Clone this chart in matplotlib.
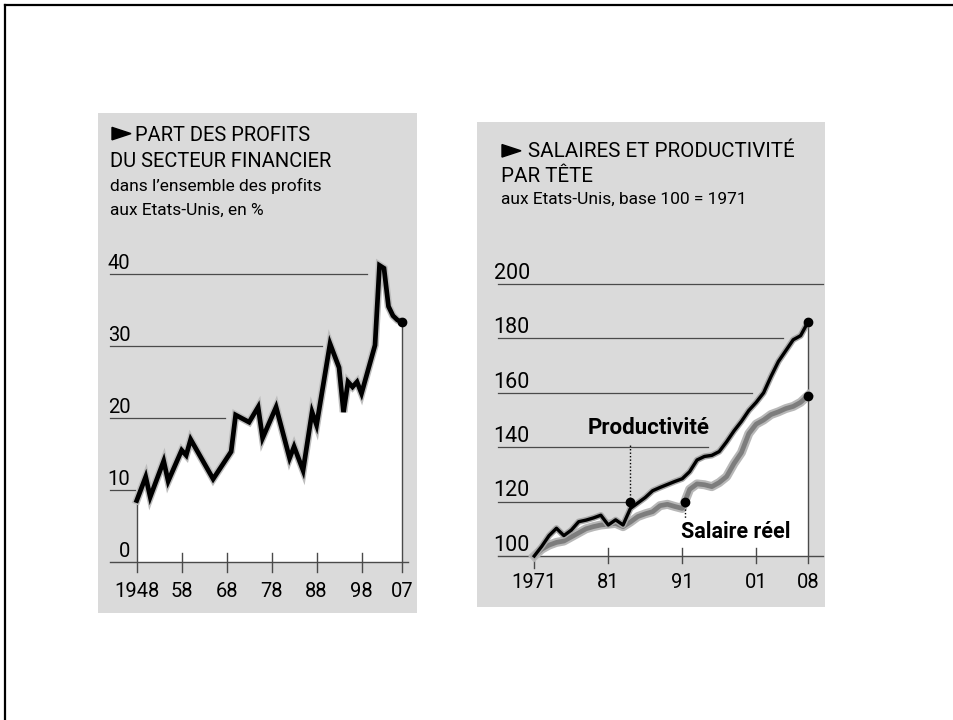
import matplotlib.pyplot as plt
import matplotlib.patheffects as pe
from matplotlib.lines import Line2D
from matplotlib.patches import Polygon

# part des profits du secteur financier, en %
profit_years = [1948, 1950, 1951, 1954, 1955, 1958, 1959, 1960, 1965, 1969, 1970,
                1973, 1975, 1976, 1979, 1982, 1983, 1985, 1987, 1988, 1991, 1993,
                1994, 1995, 1996, 1997, 1998, 2001, 2002, 2003, 2004, 2005, 2006, 2007]
profit_share = [8.5, 11.8, 9.0, 14.0, 11.2, 15.5, 14.8, 17.0, 11.5, 15.3, 20.4,
                19.4, 21.5, 17.2, 21.5, 14.4, 16.0, 12.7, 20.8, 19.0, 30.3, 27.0,
                20.8, 25.0, 24.3, 25.0, 23.4, 30.1, 41.2, 40.8, 35.5, 34.2, 33.6, 33.3]
profit_ticks = [0, 10, 20, 30, 40]
profit_xticks = [1948, 1958, 1968, 1978, 1988, 1998, 2007]
profit_xlabels = ['1948', '58', '68', '78', '88', '98', '07']

# salaires et productivite, base 100 = 1971
wage_years = list(range(1971, 2009))
productivity = [100, 103.5, 107.5, 110.2, 107.5, 109.5, 112.6, 113.2, 114, 115,
                111.4, 113.3, 111.4, 117.5, 119.5, 121.5, 124, 125.2, 126.3, 127.4,
                128.4, 131, 135.3, 136.6, 137, 138.4, 142, 146, 149.5, 153.5,
                156.5, 160, 166, 171.5, 175.5, 179.5, 181, 186]
real_wage = [100, 102.5, 104, 105, 105.5, 107, 108.5, 110, 110.8, 111.4,
             111.7, 112, 110.8, 112.5, 114.5, 115.5, 116.3, 118.5, 119, 118.2,
             117.5, 124.5, 126.5, 126.2, 125.5, 127, 129.2, 134, 138, 145,
             148.5, 150, 152, 153, 154.2, 155, 156.5, 159]
wage_ticks = [100, 120, 140, 160, 180, 200]
wage_xticks = [1971, 1981, 1991, 2001, 2008]
wage_xlabels = ['1971', '81', '91', '01', '08']

W, H = 954, 720
BG = '#dadada'
GRID = '#4a4a4a'
FONT = ['Roboto', 'DejaVu Sans']


def px_axes(fig, x0, y0, x1, y1):
    ax = fig.add_axes([x0 / W, 1 - y1 / H, (x1 - x0) / W, (y1 - y0) / H])
    ax.set_facecolor(BG)
    for s in ax.spines.values():
        s.set_visible(False)
    ax.set_xticks([])
    ax.set_yticks([])
    return ax


def ax_text(ax, x0, y0, x1, y1, px, py, s, **kw):
    # position in pixels of the whole picture -> axes fraction
    ax.text((px - x0) / (x1 - x0), 1 - (py - y0) / (y1 - y0), s,
            transform=ax.transAxes, family=FONT, **kw)


def arrow_head(fig, x, y, w=19, h=12.5):
    pts = [((x) / W, 1 - (y - h / 2) / H), (x / W, 1 - (y + h / 2) / H),
           ((x + w) / W, 1 - y / H)]
    fig.add_artist(Polygon(pts, closed=True, color='black', transform=fig.transFigure, zorder=10))


fig = plt.figure(figsize=(W / 100, H / 100), dpi=100)
fig.patch.set_facecolor('white')
fig.add_artist(Line2D([5 / W, 1], [1 - 5 / H, 1 - 5 / H], color='black', lw=1.6))
fig.add_artist(Line2D([5 / W, 5 / W], [0, 1 - 5 / H], color='black', lw=1.6))

# ---------------- left chart ----------------
L = (98, 113, 417, 613)
ax = px_axes(fig, *L)
ax.set_xlim(1939.39, 2010.34)
ax.set_ylim(-7.135, 62.39)

ax_text(ax, *L, 135, 140.7, 'PART DES PROFITS', fontsize=14.5, va='baseline')
ax_text(ax, *L, 110, 167.3, 'DU SECTEUR FINANCIER', fontsize=14.5, va='baseline')
ax_text(ax, *L, 110, 191.5, 'dans l\u2019ensemble des profits', fontsize=12.5, va='baseline')
ax_text(ax, *L, 110, 214.5, 'aux Etats-Unis, en %', fontsize=12.5, va='baseline')

grid_end = {10: 1947.6, 20: 1967.6, 30: 1989.2, 40: 1999.2}
for v in profit_ticks[1:]:
    ax.plot([1942.1, grid_end[v]], [v, v], color=GRID, lw=0.9, zorder=1)
for v in profit_ticks:
    ax.text(1946.6, v + 0.7, str(v), family=FONT, fontsize=14.5, ha='right', va='baseline')

ax.fill_between(profit_years, 0, profit_share, color='white', lw=0, zorder=2)
ax.plot([1942.1, 2008.4], [0, 0], color=GRID, lw=1.0, zorder=3)
for x in profit_xticks[1:-1]:
    ax.plot([x, x], [1.2, -1.4], color=GRID, lw=1.0, zorder=3)
ax.plot([profit_years[0]] * 2, [profit_share[0], -1.4], color=GRID, lw=1.0, zorder=3)
ax.plot([profit_years[-1]] * 2, [profit_share[-1], -1.4], color=GRID, lw=1.0, zorder=3)
ax.plot(profit_years, profit_share, color='black', lw=3.4, solid_joinstyle='miter',
        zorder=5, path_effects=[pe.withStroke(linewidth=5.5, foreground='#bdbdbd')])
ax.plot(profit_years[-1], profit_share[-1], 'o', color='black', ms=6, zorder=6)
for x, lab in zip(profit_xticks, profit_xlabels):
    ax.text(x, -4.2, lab, family=FONT, fontsize=14.5, ha='center', va='center')

# ---------------- right chart ----------------
R = (477, 122, 825, 607)
ax2 = px_axes(fig, *R)
ax2.set_xlim(1963.26, 2010.3)
ax2.set_ylim(81.25, 259.56)

ax_text(ax2, *R, 528, 156.7, 'SALAIRES ET PRODUCTIVIT\u00c9', fontsize=14.8, va='baseline')
ax_text(ax2, *R, 501, 181.5, 'PAR T\u00caTE', fontsize=14.8, va='baseline')
ax_text(ax2, *R, 501, 204, 'aux Etats-Unis, base 100 = 1971', fontsize=12.5, va='baseline')

grid_end2 = {120: 1983.5, 140: 1994.5, 160: 2000.4, 180: 2004.6, 200: 2010.0}
for v in wage_ticks[1:]:
    ax2.plot([1966.1, grid_end2[v]], [v, v], color=GRID, lw=0.9, zorder=1)
for v in wage_ticks:
    ax2.text(1970.4, v + 1.9, str(v), family=FONT, fontsize=15.5, ha='right', va='baseline')

ax2.fill_between(wage_years, 100, productivity, color='white', lw=0, zorder=2)
ax2.plot([1966.1, 2010.0], [100, 100], color=GRID, lw=1.0, zorder=3)
ax2.plot([1971, 1971], [100, 95.5], color=GRID, lw=1.0, zorder=3)
for x in wage_xticks[1:-1]:
    ax2.plot([x, x], [102.8, 97.3], color=GRID, lw=1.0, zorder=3)
ax2.plot([wage_years[-1]] * 2, [productivity[-1], 97.3], color=GRID, lw=1.0, zorder=3)

ax2.plot(wage_years, real_wage, color='#7d7d7d', lw=3.4, zorder=4,
         path_effects=[pe.withStroke(linewidth=6.5, foreground='#b8b8b8')])
ax2.plot(wage_years, productivity, color='black', lw=2.4, zorder=5,
         path_effects=[pe.withStroke(linewidth=4.5, foreground='#a8a8a8')])
ax2.plot(wage_years[-1], productivity[-1], 'o', color='black', ms=6, zorder=6)
ax2.plot(wage_years[-1], real_wage[-1], 'o', color='black', ms=6, zorder=6)

# annotations
ax2.plot([1984, 1984], [120, 141.5], color='black', lw=1.0, ls=(0, (1, 1.5)), zorder=6)
ax2.plot(1984, 120, 'o', color='black', ms=6, zorder=7)
ax2.text(1986.4, 147.1, 'Productivit\u00e9', family=FONT, fontsize=16,
         fontweight='bold', ha='center', va='center', zorder=7)
ax2.plot([1991.4, 1991.4], [120, 114], color='black', lw=1.0, ls=(0, (1, 1.5)), zorder=6)
ax2.plot(1991.4, 120, 'o', color='black', ms=6, zorder=7)
ax2.text(1990.8, 108.9, 'Salaire r\u00e9el', family=FONT, fontsize=15.5,
         fontweight='bold', ha='left', va='center', zorder=7)

for x, lab in zip(wage_xticks, wage_xlabels):
    ax2.text(x, 90.2, lab, family=FONT, fontsize=14.5, ha='center', va='center')

arrow_head(fig, 112, 133.6)
arrow_head(fig, 502, 150.8)

fig.savefig('out.png', dpi=100, facecolor='white')
